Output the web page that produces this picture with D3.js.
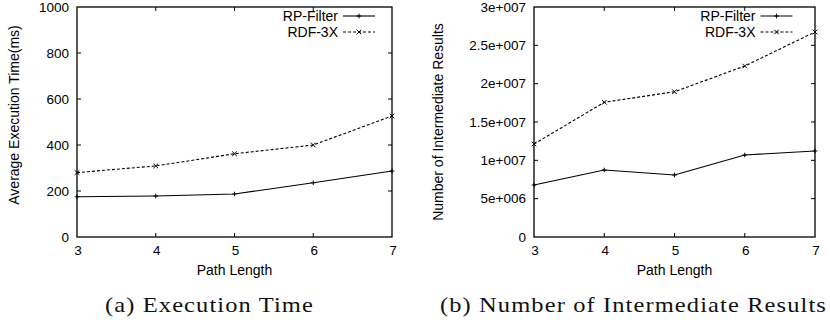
<!DOCTYPE html>
<html><head><meta charset="utf-8">
<script src="https://cdn.jsdelivr.net/npm/d3@7"></script>
<style>
html,body{margin:0;padding:0;background:#fff;}
svg{display:block;}
text{font-family:"Liberation Sans",Arial,Helvetica,sans-serif;fill:#000;}
.cap{font-family:"Liberation Serif","Times New Roman",serif;font-weight:normal;letter-spacing:1px;fill:#111;}
</style></head>
<body>
<svg id="c" width="830" height="323"></svg>
<script>
const pathLengths = [3, 4, 5, 6, 7];
const seriesNames = ["RP-Filter", "RDF-3X"];
// (a) Execution Time (ms)
const execRP = [175, 178, 187, 236, 287];
const execRDF = [280, 309, 362, 400, 526];
// (b) Number of Intermediate Results
const interRP = [6.78e6, 8.74e6, 8.09e6, 1.07e7, 1.122e7];
const interRDF = [1.213e7, 1.757e7, 1.895e7, 2.23e7, 2.674e7];
const execTicks = [0, 200, 400, 600, 800, 1000];
const execTickLabels = ["0", "200", "400", "600", "800", "1000"];
const interTicks = [0, 5e6, 1e7, 1.5e7, 2e7, 2.5e7, 3e7];
const interTickLabels = ["0", "5e+006", "1e+007", "1.5e+007", "2e+007", "2.5e+007", "3e+007"];

const svg = d3.select("#c");

function panel(cfg) {
  const x = d3.scaleLinear().domain([3, 7]).range([cfg.x0, cfg.x1]);
  const y = d3.scaleLinear().domain([0, cfg.ymax]).range([237, 7]);
  const g = svg.append("g");
  const tl = 4;
  cfg.yTicks.forEach((v, i) => {
    const yy = y(v);
    if (i > 0 && i < cfg.yTicks.length - 1) {
      g.append("line").attr("x1", cfg.x0).attr("x2", cfg.x0 + tl).attr("y1", yy).attr("y2", yy).attr("stroke", "#000");
      g.append("line").attr("x1", cfg.x1).attr("x2", cfg.x1 - tl).attr("y1", yy).attr("y2", yy).attr("stroke", "#000");
    }
    g.append("text").attr("x", cfg.x0 - 8).attr("y", yy + 4.8).attr("text-anchor", "end")
      .attr("font-size", 13.5).text(cfg.yLabels[i]);
  });
  pathLengths.forEach((v, i) => {
    const xx = x(v);
    if (i > 0 && i < pathLengths.length - 1) {
      g.append("line").attr("x1", xx).attr("x2", xx).attr("y1", 237).attr("y2", 237 - tl).attr("stroke", "#000");
      g.append("line").attr("x1", xx).attr("x2", xx).attr("y1", 7).attr("y2", 7 + tl).attr("stroke", "#000");
    }
    g.append("text").attr("x", xx + 1).attr("y", 255).attr("text-anchor", "middle")
      .attr("font-size", 13.5).text(v);
  });
  g.append("rect").attr("x", cfg.x0).attr("y", 7).attr("width", cfg.x1 - cfg.x0).attr("height", 230)
    .attr("fill", "none").attr("stroke", "#000").attr("stroke-width", 1.3);
  g.append("text").attr("x", (cfg.x0 + cfg.x1) / 2).attr("y", 275).attr("text-anchor", "middle")
    .attr("font-size", 14).text("Path Length");
  g.append("text").attr("transform", `translate(${cfg.ytx},${cfg.yty}) rotate(-90)`)
    .attr("text-anchor", "middle").attr("font-size", 14).text(cfg.ytitle);
  g.append("text").attr("class", "cap").attr("x", cfg.capx).attr("y", 312).attr("text-anchor", "middle")
    .attr("font-size", 22).attr("textLength", cfg.capw).attr("lengthAdjust", "spacingAndGlyphs").text(cfg.caption);

  const line = d3.line().x((d, i) => x(pathLengths[i])).y(d => y(d));
  const styles = [{dash: null}, {dash: "3,2"}];
  [cfg.rp, cfg.rdf].forEach((vals, s) => {
    g.append("path").attr("d", line(vals)).attr("fill", "none").attr("stroke", "#000")
      .attr("stroke-width", 1.1).attr("stroke-dasharray", styles[s].dash);
    vals.forEach((v, i) => marker(g, x(pathLengths[i]), y(v), s));
  });
  seriesNames.forEach((n, s) => {
    const ly = 16 + s * 16;
    g.append("text").attr("x", cfg.legx).attr("y", ly + 5).attr("text-anchor", "end").attr("font-size", 14).text(n);
    g.append("line").attr("x1", cfg.legx + 5).attr("x2", cfg.legx + 37).attr("y1", ly).attr("y2", ly)
      .attr("stroke", "#000").attr("stroke-width", 1.1).attr("stroke-dasharray", styles[s].dash);
    marker(g, cfg.legx + 21, ly, s);
  });
}

function marker(g, cx, cy, s) {
  const r = 2.3;
  if (s === 0) {
    g.append("path").attr("d", `M${cx - r},${cy}H${cx + r}M${cx},${cy - r}V${cy + r}`).attr("stroke", "#000").attr("stroke-width", 1);
  } else {
    g.append("path").attr("d", `M${cx - r},${cy - r}L${cx + r},${cy + r}M${cx - r},${cy + r}L${cx + r},${cy - r}`).attr("stroke", "#000").attr("stroke-width", 1);
  }
}

panel({x0: 77, x1: 392, ymax: 1000, yTicks: execTicks, yLabels: execTickLabels,
  rp: execRP, rdf: execRDF, ytitle: "Average Execution Time(ms)", ytx: 19, yty: 115,
  caption: "(a) Execution Time", capx: 209.5, capw: 209, legx: 338});
panel({x0: 534, x1: 815, ymax: 3e7, yTicks: interTicks, yLabels: interTickLabels,
  rp: interRP, rdf: interRDF, ytitle: "Number of Intermediate Results", ytx: 443, yty: 122,
  caption: "(b) Number of Intermediate Results", capx: 633.5, capw: 387, legx: 755.5});
</script>
</body></html>
